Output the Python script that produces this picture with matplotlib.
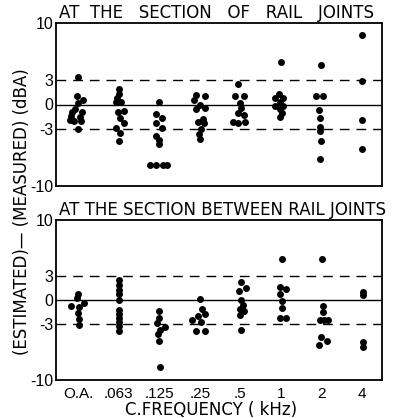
import matplotlib
matplotlib.use('Agg')
import matplotlib.pyplot as plt

plt.rcParams['font.family'] = ['DejaVu Sans']

freq_labels = ['O.A.', '.063', '.125', '.25', '.5', '1', '2', '4']
y_ticks = [-10, -3, 0, 3, 10]

# (estimated) - (measured) in dBA, one list per frequency band
joint_values = [
  [3.4, 1.0, 0.6, 0.2, -0.5, -0.9, -0.9, -1.4, -1.5, -1.9, -2.0, -2.0, -3.0],
  [1.9, 1.3, 0.8, 0.35, 0.35, -0.75, -0.9, -1.7, -2.3, -2.9, -3.5, -4.5],
  [0.3, -1.2, -1.6, -2.3, -2.9, -3.9, -4.3, -4.9, -7.4, -7.4, -7.4, -7.4],
  [1.2, 1.0, 0.5, 0.0, -0.4, -0.6, -1.8, -2.1, -2.3, -3.0, -3.6, -4.2],
  [2.5, 1.1, 1.1, 0.2, -0.4, -1.1, -1.3, -2.1, -2.3, -2.2],
  [5.2, 1.3, 0.8, 0.8, 0.3, -0.2, -0.2, -0.6, -1.1, -1.5],
  [4.9, 1.0, 1.0, -0.7, -1.7, -2.8, -3.2, -4.5, -6.7],
  [8.5, 2.9, -1.9, -5.4],
]
# horizontal spread of overlapping dots (category units)
joint_jitter = [
  [0, -0.03, 0.12, 0, -0.07, -0.15, 0.1, -0.17, 0.05, -0.2, -0.1, 0.07, 0],
  [0, 0, -0.05, 0.05, -0.08, 0.14, -0.03, 0.02, 0.14, -0.07, 0.02, 0],
  [0, -0.08, 0.06, -0.08, 0.06, -0.08, 0, 0, -0.22, -0.07, 0.08, 0.2],
  [-0.09, 0.12, -0.13, 0, 0.12, -0.1, 0.07, -0.05, 0.1, 0.02, -0.02, 0],
  [-0.05, -0.13, 0.09, 0, 0.03, -0.05, 0.09, -0.17, -0.05, 0.12],
  [0, -0.05, -0.15, 0.05, -0.02, -0.15, 0.05, -0.03, 0.03, -0.02],
  [0, -0.12, 0.04, -0.06, -0.02, -0.04, -0.02, 0, -0.02],
  [0, 0, 0, 0],
]

between_values = [
  [0.7, 0.2, -0.4, -0.7, -0.9, -1.6, -2.4, -3.1],
  [2.5, 1.9, 1.3, 0.8, 0.0, -1.3, -1.8, -2.3, -2.8, -3.3, -3.9],
  [-1.4, -2.2, -2.9, -3.4, -3.8, -4.3, -5.1, -8.4],
  [0.1, -1.1, -1.8, -2.0, -2.5, -2.8, -3.9, -3.9],
  [2.2, 1.5, 1.1, 0.0, -0.6, -1.1, -1.4, -1.9, -3.7],
  [5.1, 1.6, 1.4, 0.8, -0.1, -1.0, -2.3, -2.3],
  [5.1, -0.7, -1.5, -2.5, -2.5, -2.5, -4.6, -5.1, -5.6],
  [1.0, 0.6, -5.2, -5.9],
]
between_jitter = [
  [0, -0.03, 0.15, -0.17, 0.02, 0, 0.02, 0.02],
  [0, 0, 0, 0, 0, 0, 0, 0, 0, 0, 0],
  [0, 0, -0.05, 0.13, 0.03, -0.03, 0, 0.02],
  [0, 0.05, 0.13, -0.05, -0.2, 0.02, -0.1, 0.13],
  [0.03, 0.15, -0.03, 0.03, 0.07, -0.01, 0.09, 0, 0.01],
  [0.02, -0.02, 0.14, -0.02, 0.02, 0.02, -0.02, 0.14],
  [0.02, 0.04, 0.04, -0.04, 0.07, 0.17, -0.01, 0.15, -0.06],
  [0.04, 0.04, 0.04, 0.04],
]


def draw_panel(ax, values, jitter, title):
  for i, (vals, offs) in enumerate(zip(values, jitter)):
    xs = [i + d for d in offs]
    ax.plot(xs, vals, 'o', color='black', ms=5, mew=0)
  ax.axhline(0, color='black', lw=1.0)
  for lvl in (3, -3):
    ax.axhline(lvl, color='black', lw=1.0, dashes=(7, 5))
  ax.set_xlim(-0.55, 7.5)
  ax.set_ylim(-10, 10)
  ax.set_yticks(y_ticks)
  ax.set_yticklabels([str(t) for t in y_ticks], fontsize=11.5,
                     family='Liberation Sans')
  ax.tick_params(length=0, pad=2)
  for s in ax.spines.values():
    s.set_linewidth(1.3)
  ax.text(0.01, 1.008, title, transform=ax.transAxes, fontsize=12,
          ha='left', va='bottom')


fig = plt.figure(figsize=(3.93, 4.18), dpi=100)
ax1 = fig.add_axes([0.1425, 0.555, 0.8295, 0.390])
ax2 = fig.add_axes([0.1425, 0.091, 0.8295, 0.383])

draw_panel(ax1, joint_values, joint_jitter,
           'AT  THE   SECTION   OF   RAIL   JOINTS')
ax1.set_xticks([])
draw_panel(ax2, between_values, between_jitter,
           'AT THE SECTION BETWEEN RAIL JOINTS')
ax2.set_xticks(range(len(freq_labels)))
ax2.set_xticklabels(freq_labels, fontsize=11, family='Liberation Sans')
ax2.tick_params(axis='x', pad=5)

fig.text(0.318, 0.006, 'C.FREQUENCY ( kHz)', fontsize=12, ha='left',
         va='baseline')
fig.text(0.056, 0.493, '(ESTIMATED)\u2014 (MEASURED) (dBA)', fontsize=12,
         rotation=90, ha='center', va='center')

fig.savefig('out.png', dpi=100)
